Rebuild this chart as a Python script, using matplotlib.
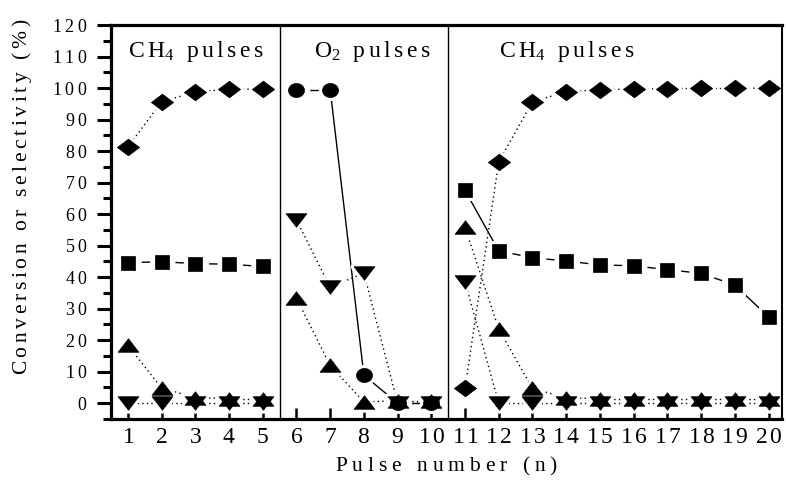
import numpy as np
import matplotlib
matplotlib.use("Agg")
import matplotlib.pyplot as plt
from matplotlib.ticker import FixedLocator, FuncFormatter, MultipleLocator
from matplotlib.path import Path

# ---------------- data ----------------
nan = np.nan
pulses = list(range(1, 21))
diamond = [81.3, 95.6, 98.8, 99.6, 99.7, nan, nan, nan, nan, nan,
           4.8, 76.6, 95.7, 98.8, 99.5, 99.7, 99.8, 99.9, 99.9, 100.0]
square = [44.6, 44.9, 44.3, 44.1, 43.4, nan, nan, nan, nan, nan,
          67.5, 48.3, 46.2, 45.1, 43.9, 43.6, 42.4, 41.2, 37.5, 27.4]
circle = [nan, nan, nan, nan, nan, 99.5, 99.5, 8.9, 0.0, 0.0,
          nan, nan, nan, nan, nan, nan, nan, nan, nan, nan]
tri_up = [18.4, 4.8, 1.8, 1.5, 1.5, 33.3, 12.0, 0.4, 0.8, 0.8,
          55.8, 23.5, 4.7, 1.7, 1.5, 1.5, 1.5, 1.5, 1.5, 1.5]
tri_down = [0.0, 0.0, 0.0, 0.0, 0.0, 58.2, 36.8, 41.3, 0.0, 0.0,
            38.5, 0.0, 0.0, 0.0, 0.0, 0.0, 0.0, 0.0, 0.0, 0.0]
region_labels = [("CH", "4"), ("O", "2"), ("CH", "4")]
region_label_x = [1.0, 6.52, 12.0]
region_bounds = [5.5, 10.5]
xlabel = "Pulse number (n)"
ylabel = "Conversion or selectivity (%)"
yticks = list(range(0, 121, 10))

# ---------------- style ----------------
plt.rcParams["mathtext.fontset"] = "custom"
plt.rcParams["mathtext.rm"] = "Liberation Serif"
plt.rcParams["mathtext.it"] = "Liberation Serif:italic"
plt.rcParams["mathtext.bf"] = "Liberation Serif:bold"
plt.rcParams["font.family"] = ["Liberation Serif", "DejaVu Serif"]

EM_M = 0.722  # italic 'm' advance used by mathtext as the em unit


def spaced(tokens, em):
    h = r"\hspace{%.3f}" % (em / EM_M)
    parts = []
    for t in tokens:
        if t == " ":
            parts.append(r"\ ")
        elif t == "%":
            parts.append(r"\%")
        else:
            parts.append(t)
    return r"$\mathrm{" + h.join(parts) + "}$"


fig = plt.figure(figsize=(7.86, 4.84), dpi=100)
ax = fig.add_axes([111 / 786, 65 / 484, (782 - 111) / 786, (419 - 25) / 484])
ax.set_xlim(0.5, 20.4)
ax.set_ylim(-5, 120)

for b in region_bounds:
    ax.axvline(b, color="k", lw=1.0, zorder=1)


def ellipse_marker(r):
    t = np.linspace(0, 2 * np.pi, 64)
    v = np.column_stack([np.cos(t), r * np.sin(t)])
    return Path(v, closed=True)


m_diamond = Path([(-1, 0), (0, 0.75), (1, 0), (0, -0.75), (-1, 0)], closed=True)
m_up = Path([(-1, -0.65), (1, -0.65), (0, 0.65), (-1, -0.65)], closed=True)
m_down = Path([(-1, 0.65), (1, 0.65), (0, -0.65), (-1, 0.65)], closed=True)
m_circle = ellipse_marker(0.88)

DOT = (0, (1, 2.3))
DASH = (0, (6, 4))


def draw(y, marker, ms, default_ls, special=None):
    special = special or {}
    x = np.asarray(pulses, float)
    y = np.asarray(y, float)
    for i in range(len(x) - 1):
        if np.isnan(y[i]) or np.isnan(y[i + 1]):
            continue
        if any(x[i] < b < x[i + 1] for b in region_bounds):
            continue
        ls = special.get(int(x[i]), default_ls)
        ax.plot(x[i:i + 2], y[i:i + 2], color="k", lw=1.0, ls=ls, zorder=2)
    ax.plot(x, y, ls="none", marker=marker, ms=ms, mfc="w", mec="w",
            mew=5, zorder=2.2)
    return (x, y, marker, ms)


layers = [
    draw(square, "s", 10.3, DASH, {11: "-", 19: "-"}),
    draw(circle, m_circle, 11.5, DASH, {7: "-", 8: "-"}),
    draw(diamond, m_diamond, 16, DOT),
    draw(tri_up, m_up, 15, DOT),
    draw(tri_down, m_down, 15, DOT),
]
for x, y, marker, ms in layers:
    ax.plot(x, y, ls="none", marker=marker, ms=ms, color="k", mec="k",
            mew=0.5, zorder=4)

# region labels
for (base, sub), xx in zip(region_labels, region_label_x):
    toks = list(base[:-1]) + [base[-1] + "_{" + sub + "}"] + [" "] + list("pulses")
    ax.text(xx, 110, spaced(toks, 0.15), fontsize=17, ha="left",
            va="baseline", zorder=5)

# spines
for s in ["left", "bottom", "top"]:
    ax.spines[s].set_linewidth(2.3)
ax.spines["right"].set_linewidth(1.5)

# ticks
ax.xaxis.set_major_locator(FixedLocator(pulses))
ax.xaxis.set_major_formatter(FuncFormatter(lambda v, p: spaced(list(str(int(round(v)))), 0.1)))
ax.yaxis.set_major_locator(FixedLocator(yticks))
ax.yaxis.set_minor_locator(MultipleLocator(5))
ax.yaxis.set_major_formatter(FuncFormatter(lambda v, p: spaced(list(str(int(round(v)))), 0.2)))
ax.tick_params(axis="x", which="major", direction="in", length=8, width=1.8,
               labelsize=17, pad=6, top=False)
ax.tick_params(axis="y", which="major", direction="out", length=10, width=2.2,
               labelsize=13, pad=7, right=False)
ax.tick_params(axis="y", which="minor", direction="out", length=6, width=2.2,
               right=False)

# axis labels
ax.set_xlabel(spaced(list(xlabel), 0.23), fontsize=15.5, labelpad=5)
fig.text(22 / 786, 1 - 197 / 484, spaced(list(ylabel), 0.17), fontsize=15.5,
         rotation=90, ha="center", va="center")

fig.savefig("out.png", dpi=100)
